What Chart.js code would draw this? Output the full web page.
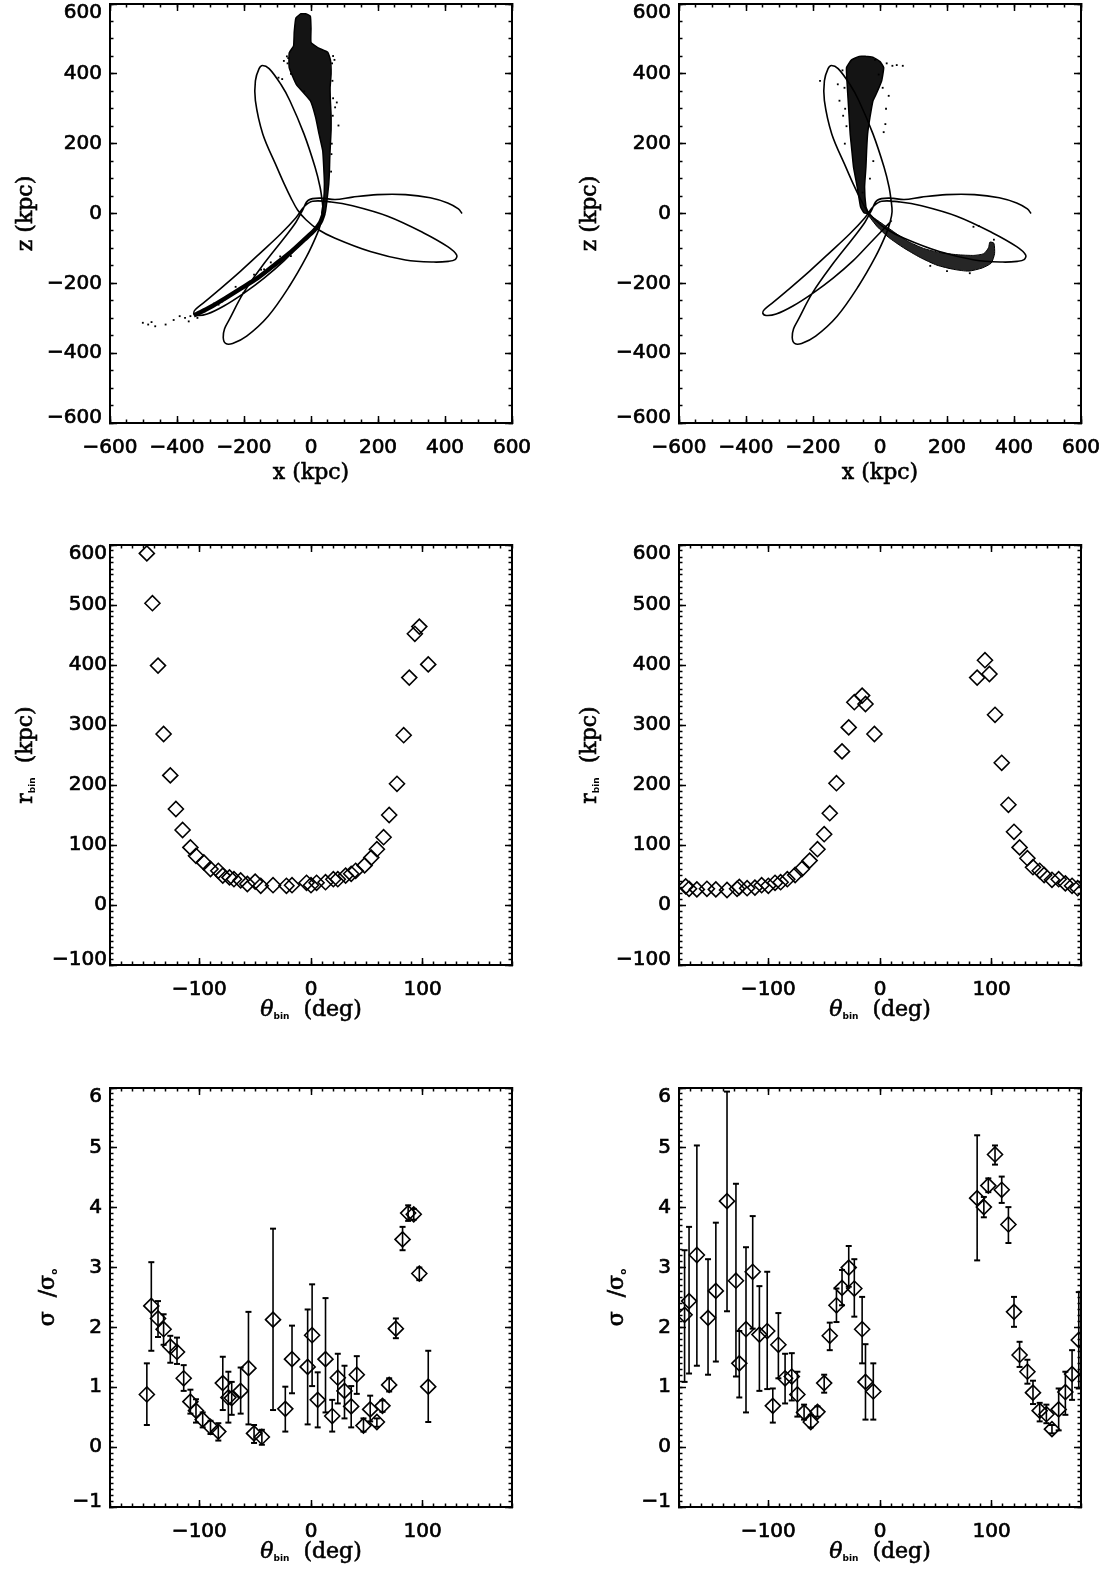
<!DOCTYPE html>
<html>
<head>
<meta charset="utf-8">
<script src="https://cdn.jsdelivr.net/npm/chart.js@4.4.1/dist/chart.umd.min.js"></script>
<style>
body{margin:0;background:#fff;width:1108px;height:1576px;position:relative;overflow:hidden}
canvas{position:absolute}
</style>
</head>
<body>
<canvas id="c1" width="554" height="500" style="left:0;top:0"></canvas>
<canvas id="c2" width="554" height="500" style="left:554px;top:0"></canvas>
<canvas id="c3" width="554" height="540" style="left:0;top:500px"></canvas>
<canvas id="c4" width="554" height="540" style="left:554px;top:500px"></canvas>
<canvas id="c5" width="554" height="536" style="left:0;top:1040px"></canvas>
<canvas id="c6" width="554" height="536" style="left:554px;top:1040px"></canvas>
<script>
// ---- orbit (same in both top panels), x/z in kpc
const orbitX = [35,10,-30,-80,-140,-200,-260,-310,-340,-350,-345,-320,-270,-210,-150,-90,-45,-20,5,60,124,229,335,408,435,430,410,366,282,177,72,20,-15,-40,-60,-80,-102,-144,-166,-166,-155,-145,-125,-90,-63,-21,12,27,33,36,30,19,-13,-65,-128,-192,-234,-255,-262,-258,-244,-202,-139,-80,-45,-25,-8,30,72,124,198,282,356,408,440,451];
const orbitZ = [-20,-45,-85,-135,-185,-228,-265,-288,-292,-285,-275,-255,-215,-165,-112,-58,-12,20,35,33,22,-8,-55,-95,-119,-132,-137,-139,-133,-109,-71,-45,-18,10,45,85,133,228,323,380,415,424,415,370,323,228,133,76,38,5,-25,-57,-123,-209,-294,-351,-372,-372,-355,-330,-304,-228,-142,-70,-25,10,38,44,40,47,54,54,45,30,13,0];

// ---- left run: dense part of the stream (outline), thin arm, scattered particles
const blobLX = [-15,-2,0,0,20,50,58,60,57,58,60,60,58,56,55,53,48,42,32,38,40,38,35,24,14,-2,-44,-65,-65,-52,-50,-45,-30,-15];
const blobLZ = [572,565,530,490,475,462,440,400,360,320,280,240,200,160,120,85,40,0,0,38,85,133,180,228,275,323,370,418,460,480,520,560,572,572];
const armLX = [38,28,10,-20,-60,-110,-160,-210,-260,-300,-330,-350];
const armLZ = [0,-25,-48,-75,-110,-148,-185,-215,-245,-268,-283,-292];
const dotsLX = [-97,-86,-81,-72,-70,-68,-60,66,70,63,64,66,77,72,82,65,62,61,60,-20,-92,-120,-149,-181,-202,-234,-250,-265,-276,-290,-318,-339,-360,-376,-392,-410,-434,-465,-486,-502,-476,-365,-339,-225,-170,-140,-60,-40];
const dotsLZ = [389,385,437,450,430,445,400,451,440,430,380,330,318,304,252,280,200,170,120,350,-123,-140,-161,-195,-228,-228,-240,-252,-261,-258,-280,-290,-294,-299,-294,-305,-318,-323,-318,-313,-311,-309,-299,-210,-175,-160,-122,-96];

// ---- right run
const blobRX = [-40,-20,0,11,5,-10,-21,-30,-37,-40,-42,-46,-42,-35,-48,-58,-68,-79,-84,-89,-92,-95,-98,-100,-85,-62,-40];
const blobRZ = [450,447,435,418,380,345,323,275,228,180,133,76,19,0,2,19,76,133,180,228,275,323,370,418,440,450,450];
const tailRX = [-40,-10,30,80,130,180,230,280,310,324,328,340,342,332,305,265,220,170,120,70,25,-8,-28,-40];
const tailRZ = [2,-18,-45,-78,-100,-112,-118,-120,-115,-98,-82,-85,-115,-142,-156,-165,-160,-148,-126,-98,-68,-38,-14,2];
const dotsRX = [68,50,37,20,-179,-126,-121,16,11,26,18,-110,-105,-15,279,295,268,340,200,150,-20,-100,-112,-4,-106,-104,8,-30,-52];
const dotsRZ = [423,425,423,430,380,370,323,256,233,337,300,280,200,440,-38,-36,-171,-75,-165,-150,150,250,410,398,360,300,360,100,60];

// ---- r_bin vs theta_bin
const thL = [-147,-142,-137,-132,-126,-121,-115,-108,-103,-96,-90,-83,-79,-73,-69,-63,-57,-50,-45,-34,-22,-17,-4,0,5,13,20,24,31,36,40,48,54,59,65,70,77,83,88,93,97,105];
const rL = [586,503,399,285,216,160,125,96,82,71,60,57,49,46,43,41,35,39,32,33,32,33,37,33,37,38,43,43,49,52,57,66,79,93,113,150,202,283,379,452,464,401];
const thR = [-174,-171,-164,-155,-147,-137,-128,-126,-119,-112,-106,-100,-94,-89,-83,-76,-70,-63,-56,-50,-45,-39,-34,-28,-23,-16,-13,-5,87,94,98,103,109,115,120,125,132,137,143,147,154,160,166,172,177];
const rR = [31,27,26,27,26,25,27,30,28,29,33,32,37,38,43,50,60,74,93,118,153,203,256,296,338,349,335,285,379,408,385,317,237,167,122,96,78,63,57,50,42,43,36,32,28];

// ---- sigma/sigma0 vs theta_bin, with error bar ends
const thSL = [-147,-143,-137,-132,-126,-120,-114,-108,-103,-97,-90,-83,-79,-74,-71,-63,-56,-51,-44,-34,-23,-17,-3,1,6,13,19,24,30,36,41,47,53,59,64,70,76,82,87,92,97,105];
const sL = [0.88,2.36,2.15,1.97,1.68,1.59,1.15,0.76,0.61,0.46,0.34,0.26,1.07,0.83,0.82,0.94,1.32,0.23,0.17,2.13,0.64,1.47,1.34,1.87,0.79,1.47,0.52,1.16,0.94,0.68,1.21,0.36,0.63,0.42,0.69,1.04,1.98,3.47,3.91,3.89,2.90,1.01];
const sHiL = [1.40,3.09,2.44,2.22,1.86,1.83,1.37,0.96,0.80,0.58,0.44,0.40,1.51,1.26,1.09,1.33,2.26,0.37,0.29,3.65,1.01,2.03,2.30,2.72,1.25,2.49,0.79,1.56,1.36,1.02,1.52,0.48,0.86,0.48,0.78,1.15,2.15,3.68,4.04,3.98,3.00,1.61];
const sLoL = [0.37,1.61,1.84,1.71,1.41,1.39,0.94,0.56,0.41,0.33,0.22,0.11,0.62,0.41,0.54,0.56,0.38,0.07,0.04,0.62,0.26,0.90,0.38,1.02,0.33,0.58,0.26,0.73,0.48,0.33,0.89,0.26,0.43,0.34,0.59,0.93,1.82,3.29,3.78,3.80,2.79,0.42];
const thSR = [-175,-171,-164,-154,-147,-137,-129,-126,-120,-114,-108,-101,-96,-91,-85,-79,-74,-68,-62,-56,-50,-45,-39,-34,-28,-23,-16,-13,-6,87,93,97,103,109,115,120,125,132,137,143,149,154,160,166,172,178];
const sR = [2.21,2.44,3.21,2.16,2.61,4.11,2.78,1.40,1.97,2.93,1.88,1.94,0.69,1.71,1.15,1.18,0.88,0.58,0.42,0.59,1.07,1.86,2.37,2.66,3.00,2.65,1.97,1.09,0.93,4.16,4.01,4.37,4.89,4.30,3.72,2.26,1.54,1.26,0.91,0.61,0.55,0.30,0.63,0.92,1.22,1.79];
const sHiR = [3.29,3.68,5.04,3.14,3.75,5.94,4.40,1.94,3.34,3.86,2.69,2.93,0.98,2.24,1.56,1.57,1.26,0.71,0.54,0.68,1.21,2.08,2.65,2.96,3.36,3.14,2.51,1.72,1.40,5.21,4.18,4.49,5.04,4.52,4.01,2.51,1.76,1.46,1.11,0.74,0.71,0.37,0.98,1.26,1.62,2.59];
const sLoR = [1.09,1.23,1.36,1.21,1.43,2.27,1.18,0.83,0.58,1.98,0.94,0.97,0.41,1.15,0.73,0.78,0.51,0.46,0.33,0.51,0.91,1.62,2.09,2.37,2.68,2.18,1.40,0.46,0.46,3.12,3.84,4.26,4.72,4.08,3.41,2.01,1.34,1.06,0.72,0.43,0.40,0.23,0.28,0.54,0.79,0.98];

Chart.defaults.font.family = 'DejaVu Sans';
Chart.defaults.color = '#000';
Chart.defaults.animation = false;
Chart.defaults.plugins.legend.display = false;
Chart.defaults.plugins.tooltip.enabled = false;

const tickFont = {family: 'DejaVu Sans', size: 20};
const SERIF = '"DejaVu Serif"';
const minus = v => String(v).replace('-', '\u2212');

function pts(xs, ys) { return xs.map((x, i) => ({x: x, y: ys[i]})); }
function bars(xs, lo, hi) {
    const d = [];
    xs.forEach((x, i) => { d.push({x: x, y: lo[i]}, {x: x, y: hi[i]}, {x: x, y: null}); });
    return d;
}

function noPad(s) { s.paddingTop = 0; s.paddingBottom = 0; s.paddingLeft = 0; s.paddingRight = 0; }

// IDL style frame: inward ticks on all four sides, major + minor
function frame(c) {
    const ax = (axis, pos, r, step, len, w) => ({
        type: 'linear', axis: axis, position: pos, min: r[0], max: r[1], weight: w,
        border: {display: true, color: '#000', width: 2},
        grid: {drawOnChartArea: false, drawTicks: true, tickLength: -len, tickColor: '#000', tickWidth: 1.5},
        ticks: {display: false, stepSize: step, autoSkip: false, includeBounds: false},
        afterFit: s => { if (axis === 'x') s.height = 0; else s.width = 0; noPad(s); }
    });
    const s = {
        x: ax('x', 'bottom', c.x, c.x[2], 7, 1),
        xm: ax('x', 'bottom', c.x, c.x[3], 3.5, 0),
        xt: ax('x', 'top', c.x, c.x[2], 7, 1),
        xtm: ax('x', 'top', c.x, c.x[3], 3.5, 0),
        y: ax('y', 'left', c.y, c.y[2], 7, 1),
        ym: ax('y', 'left', c.y, c.y[3], 3.5, 0),
        yr: ax('y', 'right', c.y, c.y[2], 7, 1),
        yrm: ax('y', 'right', c.y, c.y[3], 3.5, 0)
    };
    const lab = {autoSkip: false, includeBounds: false, maxRotation: 0, font: tickFont, color: '#000',
        textStrokeColor: '#000', textStrokeWidth: 0.7, callback: v => minus(v)};
    s.x.ticks = Object.assign({display: true, stepSize: c.x[2], padding: 20}, lab);
    s.x.afterFit = sc => { sc.height = c.xH; noPad(sc); };
    s.y.ticks = Object.assign({display: true, stepSize: c.y[2], padding: c.yPad}, lab);
    s.y.afterFit = sc => { sc.width = c.yW; noPad(sc); };
    return s;
}

// IDL pushes the end labels of the y axis inside the frame
const endLabels = {
    id: 'endLabels',
    beforeDraw(chart) {
        const sc = chart.scales.y;
        const items = sc.getLabelItems();
        sc.ticks.forEach((t, i) => {
            const it = items[i];
            if (!it || it._moved) return;
            if (t.value === sc.max) it.options.translation[1] += 9;
            if (t.value === sc.min) it.options.translation[1] -= 5;
            it._moved = true;
        });
    }
};

// axis titles with small subscripts
function run(ctx, parts, cx, cy, rot) {
    ctx.save();
    ctx.translate(cx, cy);
    ctx.rotate(rot);
    let w = 0;
    parts.forEach(p => { ctx.font = p.f; w += ctx.measureText(p.t).width; });
    let x = -w / 2;
    parts.forEach(p => {
        ctx.font = p.f;
        ctx.fillText(p.t, x, p.dy || 0);
        if (!p.sub) ctx.strokeText(p.t, x, p.dy || 0);
        x += ctx.measureText(p.t).width;
    });
    ctx.restore();
}
const axisTitles = {
    id: 'axisTitles',
    afterDraw(chart, args, o) {
        const ctx = chart.ctx, a = chart.chartArea;
        ctx.save();
        ctx.fillStyle = '#000';
        ctx.strokeStyle = '#000';
        ctx.lineWidth = 0.6;
        ctx.textBaseline = 'alphabetic';
        run(ctx, o.x, (a.left + a.right) / 2, a.bottom + o.xOff, 0);
        run(ctx, o.y, a.left - o.yOff, (a.top + a.bottom) / 2, -Math.PI / 2);
        ctx.restore();
    }
};

const T = '22px ' + SERIF;
const SUB = 'bold 9px "DejaVu Sans"';
const tX = [{t: 'x (kpc)', f: T}];
const tZ = [{t: 'z (kpc)', f: T}];
const tTh = [{t: '\u03b8', f: 'italic ' + T}, {t: 'bin', f: SUB, dy: 3, sub: true}, {t: '  (deg)', f: T}];
const tR = [{t: 'r', f: T}, {t: 'bin', f: SUB, dy: 3, sub: true}, {t: '  (kpc)', f: T}];
const tS = [{t: '\u03c3  /\u03c3', f: T}, {t: 'o', f: SUB, dy: 3, sub: true}];

function streamSets(ox, oz, bx, bz, ax, az, ashape, dx, dz) {
    return [
        {data: pts(ox, oz), showLine: true, pointRadius: 0, borderColor: '#000', borderWidth: 1.6, tension: 0.35, clip: 0},
        {data: pts(bx, bz), showLine: true, pointRadius: 0, borderColor: '#000', borderWidth: 1.5,
         backgroundColor: 'rgba(0,0,0,0.92)', fill: 'shape', tension: 0.12, clip: 0},
        ashape
            ? {data: pts(ax, az), showLine: true, pointRadius: 0, borderColor: '#000', borderWidth: 1,
               backgroundColor: 'rgba(0,0,0,0.85)', fill: 'shape', tension: 0.2, clip: 0}
            : {data: pts(ax, az), showLine: true, pointRadius: 0, borderColor: '#000', borderWidth: 4.5, tension: 0.3, clip: 0},
        {data: pts(dx, dz), pointStyle: 'rect', pointRadius: 1.3, backgroundColor: '#000', borderWidth: 0, clip: 0}
    ];
}
function diamonds(xs, ys) {
    return {data: pts(xs, ys), pointStyle: 'rectRot', pointRadius: 7.5, borderColor: '#000',
        backgroundColor: 'rgba(0,0,0,0)', borderWidth: 1.6, clip: 0};
}
function errSets(xs, ys, lo, hi) {
    return [
        {data: bars(xs, lo, hi), showLine: true, spanGaps: false, pointRadius: 0, borderColor: '#000', borderWidth: 1.6, clip: 0},
        {data: pts(xs, lo).concat(pts(xs, hi)), pointStyle: 'line', pointRadius: 3, borderColor: '#000', borderWidth: 2, clip: 0},
        diamonds(xs, ys)
    ];
}

function make(id, datasets, c, titles) {
    new Chart(document.getElementById(id), {
        type: 'scatter',
        data: {datasets: datasets},
        options: {
            responsive: false,
            layout: {padding: {left: 0, right: c.padR, top: c.padT, bottom: 0}},
            scales: frame(c),
            plugins: {axisTitles: titles}
        },
        plugins: [endLabels, axisTitles]
    });
}

const xyR = [-600, 600, 200, 50];
const thRange = [-180, 180, 100, 10];
const rRange = [-100, 600, 100, 10];
const sRange = [-1, 6, 1, 0.1];

make('c1', streamSets(orbitX, orbitZ, blobLX, blobLZ, armLX, armLZ, false, dotsLX, dotsLZ),
    {x: xyR, y: xyR, xH: 77, yW: 110, yPad: 15, padR: 42, padT: 3},
    {x: tX, y: tZ, xOff: 56, yOff: 78});
make('c2', streamSets(orbitX, orbitZ, blobRX, blobRZ, tailRX, tailRZ, true, dotsRX, dotsRZ),
    {x: xyR, y: xyR, xH: 77, yW: 125, yPad: 15, padR: 27, padT: 3},
    {x: tX, y: tZ, xOff: 56, yOff: 83});
make('c3', [diamonds(thL, rL)],
    {x: thRange, y: rRange, xH: 75, yW: 110, yPad: 10, padR: 42, padT: 45},
    {x: tTh, y: tR, xOff: 51, yOff: 78});
make('c4', [diamonds(thR, rR)],
    {x: thRange, y: rRange, xH: 75, yW: 125, yPad: 15, padR: 27, padT: 45},
    {x: tTh, y: tR, xOff: 51, yOff: 83});
make('c5', errSets(thSL, sL, sLoL, sHiL),
    {x: thRange, y: sRange, xH: 69, yW: 110, yPad: 15, padR: 42, padT: 48},
    {x: tTh, y: tS, xOff: 51, yOff: 56});
make('c6', errSets(thSR, sR, sLoR, sHiR),
    {x: thRange, y: sRange, xH: 69, yW: 125, yPad: 15, padR: 27, padT: 48},
    {x: tTh, y: tS, xOff: 51, yOff: 56});
</script>
</body>
</html>
